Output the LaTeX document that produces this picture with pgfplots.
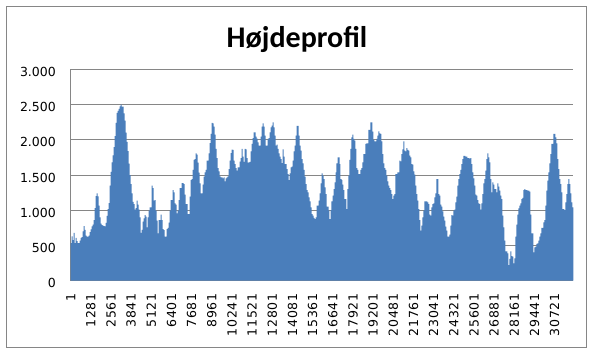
\documentclass[border=0pt]{standalone}
\usepackage{fontspec}
\usepackage{pgfplots}
\pgfplotsset{compat=1.18}
\setmainfont{DejaVu Sans}
\newfontfamily\titlefont{Carlito}
\newfontfamily\xfont[LetterSpace=6]{DejaVu Sans}
\definecolor{barblue}{HTML}{4A7EBB}
\definecolor{gridgray}{HTML}{868686}
\begin{document}
\begin{tikzpicture}[x=1bp,y=1bp]
\useasboundingbox (0,0) rectangle (594,358);
\draw[gridgray, line width=0.8bp] (6.5,10.5) rectangle (586.5,352);
\node[anchor=base, font=\titlefont\fontsize{30bp}{34bp}\selectfont\bfseries] at (297,311) {Højdeprofil};
\begin{axis}[
  at={(70.7bp,77.3bp)}, anchor=south west,
  scale only axis, width=502.6bp, height=211.4bp,
  xmin=1, xmax=31906, ymin=0, ymax=3000,
  enlargelimits=false,
  axis x line*=bottom, axis y line*=left,
  axis line style={gridgray, line width=0.8bp, -},
  ymajorgrids, grid style={gridgray, line width=0.8bp},
  ytick={0,500,1000,1500,2000,2500,3000},
  scaled y ticks=false, scaled x ticks=false,
  xtick={1,1281,2561,3841,5121,6401,7681,8961,10241,11521,12801,14081,15361,16641,17921,19201,20481,21761,23041,24321,25601,26881,28161,29441,30721},
  xticklabels={1,1281,2561,3841,5121,6401,7681,8961,10241,11521,12801,14081,15361,16641,17921,19201,20481,21761,23041,24321,25601,26881,28161,29441,30721},
  major tick length=0pt,
  /pgf/number format/assume math mode=true,
  /pgf/number format/1000 sep={.},
  yticklabel style={font=\fontsize{12.5bp}{14bp}\selectfont, anchor=east, inner sep=0pt, xshift=-14.7bp, yshift=-2.5bp},
  xticklabel style={font=\xfont\fontsize{12.5bp}{14bp}\selectfont, rotate=90, anchor=east, inner sep=0pt},
  xticklabel shift=12.6bp,
]
\addplot[const plot, fill=barblue, draw=none] coordinates {
(1,535)(64,629)(128,577)(191,680)(255,535)(318,606)(382,560)(445,535)(508,535)(572,570)
(635,606)(699,620)(762,700)(826,776)(889,720)(952,640)(1016,625)(1079,625)(1143,640)(1206,690)
(1270,730)(1333,770)(1396,795)(1460,860)(1523,1030)(1587,1200)(1650,1240)(1714,1197)(1777,1065)(1840,900)
(1904,810)(1967,790)(2031,780)(2094,775)(2158,770)(2221,820)(2284,920)(2348,1015)(2411,1100)(2475,1350)
(2538,1545)(2602,1680)(2665,1780)(2728,1895)(2792,2050)(2855,2240)(2919,2380)(2982,2410)(3046,2440)(3109,2475)
(3173,2498)(3236,2470)(3299,2470)(3363,2375)(3426,2271)(3490,2100)(3553,1970)(3617,1840)(3680,1660)(3743,1500)
(3807,1370)(3870,1240)(3934,1120)(3997,1088)(4061,1010)(4124,1030)(4187,1136)(4251,1080)(4314,1010)(4378,900)
(4441,680)(4505,720)(4568,840)(4631,885)(4695,930)(4758,910)(4822,757)(4885,899)(4949,994)(5012,1041)
(5075,1041)(5139,1349)(5202,1315)(5266,1136)(5329,1145)(5393,994)(5456,852)(5519,672)(5583,861)(5646,861)
(5710,937)(5773,861)(5837,733)(5900,719)(5963,625)(6027,625)(6090,733)(6154,748)(6217,823)(6281,994)
(6344,1145)(6407,1145)(6471,1287)(6534,1254)(6598,1098)(6661,1079)(6725,956)(6788,994)(6851,1145)(6915,1315)
(6978,1315)(7042,1386)(7105,1386)(7169,1372)(7232,1221)(7295,1088)(7359,1088)(7422,946)(7486,946)(7549,1192)
(7613,1429)(7676,1443)(7739,1571)(7803,1713)(7866,1727)(7930,1808)(7993,1789)(8057,1675)(8120,1533)(8183,1382)
(8247,1240)(8310,1240)(8374,1363)(8437,1476)(8501,1538)(8564,1571)(8627,1704)(8691,1704)(8754,1808)(8818,1954)
(8881,2082)(8945,2238)(9008,2234)(9071,2186)(9135,2073)(9198,1869)(9262,1741)(9325,1599)(9389,1552)(9452,1481)
(9516,1467)(9579,1467)(9642,1453)(9706,1467)(9769,1410)(9833,1453)(9896,1467)(9960,1481)(10023,1585)(10086,1704)
(10150,1812)(10213,1860)(10277,1855)(10340,1704)(10404,1656)(10467,1599)(10530,1562)(10594,1609)(10657,1609)(10721,1689)
(10784,1741)(10848,1869)(10911,1760)(10974,1685)(11038,1869)(11101,1864)(11165,1741)(11228,1675)(11292,1680)(11355,1685)
(11418,1836)(11482,1940)(11545,2025)(11609,2106)(11672,2106)(11736,2044)(11799,2016)(11862,1964)(11926,1916)(11989,1916)
(12053,2044)(12116,2186)(12180,2234)(12243,2186)(12306,2058)(12370,1916)(12433,1916)(12497,2011)(12560,2025)(12624,2106)
(12687,2177)(12750,2200)(12814,2248)(12877,2177)(12941,2058)(13004,1916)(13068,1931)(13131,1869)(13194,1808)(13258,1760)
(13321,1727)(13385,1670)(13448,1864)(13512,1760)(13575,1656)(13638,1656)(13702,1585)(13765,1514)(13829,1429)(13892,1524)
(13956,1609)(14019,1618)(14082,1704)(14146,1836)(14209,1916)(14273,2058)(14336,2196)(14400,2196)(14463,2058)(14526,1916)
(14590,1845)(14653,1727)(14717,1666)(14780,1571)(14844,1476)(14907,1372)(14970,1287)(15034,1254)(15097,1183)(15161,1126)
(15224,1041)(15288,946)(15351,923)(15414,890)(15478,875)(15541,899)(15605,1065)(15668,1065)(15732,1136)(15795,1240)
(15859,1382)(15922,1524)(15985,1491)(16049,1443)(16112,1325)(16176,1230)(16239,1050)(16303,1050)(16366,994)(16429,875)
(16493,1003)(16556,1126)(16620,1207)(16683,1301)(16747,1396)(16810,1538)(16873,1666)(16937,1751)(17000,1751)(17064,1656)
(17127,1443)(17191,1429)(17254,1363)(17317,1287)(17381,1159)(17444,1159)(17508,1017)(17571,1301)(17635,1491)(17698,1713)
(17761,1869)(17825,2035)(17888,2073)(17952,2011)(18015,1987)(18079,1869)(18142,1599)(18205,1571)(18269,1514)(18332,1514)
(18396,1571)(18459,1599)(18523,1680)(18586,1798)(18649,1798)(18713,1940)(18776,1950)(18840,1950)(18903,2139)(18967,2139)
(19030,2248)(19093,2248)(19157,2115)(19220,1997)(19284,1978)(19347,1978)(19411,2011)(19474,2058)(19537,2120)(19601,2092)
(19664,2082)(19728,1978)(19791,1798)(19855,1666)(19918,1599)(19981,1571)(20045,1491)(20108,1410)(20172,1349)(20235,1315)
(20299,1287)(20362,1230)(20425,1159)(20489,1207)(20552,1230)(20616,1514)(20679,1514)(20743,1538)(20806,1538)(20869,1704)
(20933,1694)(20996,1798)(21060,1864)(21123,1978)(21187,1845)(21250,1836)(21313,1883)(21377,1855)(21440,1845)(21504,1775)
(21567,1751)(21631,1656)(21694,1647)(21757,1552)(21821,1505)(21884,1349)(21948,1230)(22011,1136)(22075,1017)(22138,861)
(22202,710)(22265,781)(22328,899)(22392,994)(22455,1126)(22519,1126)(22582,1126)(22646,1112)(22709,1088)(22772,937)
(22836,923)(22899,1041)(22963,1088)(23026,1098)(23090,1183)(23153,1240)(23216,1443)(23280,1443)(23343,1230)(23407,1207)
(23470,1079)(23534,1050)(23597,984)(23660,909)(23724,852)(23787,767)(23851,710)(23914,625)(23978,625)(24041,653)
(24104,781)(24168,932)(24231,923)(24295,994)(24358,1008)(24422,1112)(24485,1192)(24548,1349)(24612,1443)(24675,1514)
(24739,1571)(24802,1656)(24866,1727)(24929,1770)(24992,1770)(25056,1760)(25119,1760)(25183,1741)(25246,1741)(25310,1732)
(25373,1741)(25436,1656)(25500,1538)(25563,1453)(25627,1349)(25690,1221)(25754,1207)(25817,1145)(25880,1098)(25944,1088)
(26007,1008)(26071,1098)(26134,1230)(26198,1382)(26261,1443)(26324,1562)(26388,1727)(26451,1808)(26515,1751)(26578,1680)
(26642,1443)(26705,1254)(26768,1396)(26832,1363)(26895,1301)(26959,1301)(27022,1254)(27086,1382)(27149,1334)(27212,1278)
(27276,1207)(27339,1159)(27403,923)(27466,757)(27530,568)(27593,416)(27656,416)(27720,388)(27783,222)(27847,308)
(27910,416)(27974,350)(28037,341)(28100,246)(28164,317)(28227,625)(28291,795)(28354,937)(28418,1027)(28481,1065)
(28545,1098)(28608,1159)(28671,1174)(28735,1287)(28798,1301)(28862,1287)(28925,1287)(28989,1278)(29052,1278)(29115,1263)
(29179,937)(29242,672)(29306,672)(29369,402)(29433,473)(29496,483)(29559,521)(29623,530)(29686,568)(29750,625)
(29813,672)(29877,748)(29940,748)(30003,828)(30067,861)(30130,1065)(30194,1278)(30257,1420)(30321,1538)(30384,1666)
(30447,1798)(30511,1940)(30574,1940)(30638,2082)(30701,2082)(30765,2035)(30828,1950)(30891,1727)(30955,1585)(31018,1443)
(31082,1372)(31145,1254)(31209,1017)(31272,1017)(31335,1003)(31399,1112)(31462,1230)(31526,1372)(31589,1443)(31653,1372)
(31716,1240)(31779,1112)(31843,1041)(31906,1041)
} \closedcycle;
\end{axis}
\end{tikzpicture}
\end{document}
